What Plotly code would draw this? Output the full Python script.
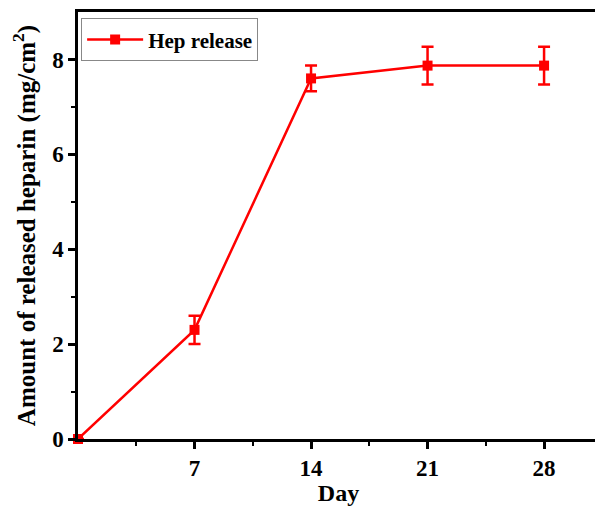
import plotly.graph_objects as go

days = [0, 7, 14, 21, 28]
released = [0.0, 2.3, 7.6, 7.87, 7.87]
errors = [0.0, 0.3, 0.27, 0.4, 0.4]
x_ticks = [7, 14, 21, 28]
y_ticks = [0, 2, 4, 6, 8]

font_family = "Liberation Serif, Times New Roman, serif"

fig = go.Figure()
fig.add_trace(go.Scatter(
    x=days, y=released,
    mode="lines+markers",
    name="<b>Hep release</b>",
    line=dict(color="#ff0000", width=2.5),
    marker=dict(symbol="square", size=10, color="#ff0000"),
    error_y=dict(type="data", array=errors, visible=True, color="#ff0000",
                 thickness=2.5, width=6),
    cliponaxis=False,
))

# the page body adds an 8px offset; figure size/margins compensate for it
fig.update_layout(
    width=595, height=498,
    margin=dict(l=70, r=1, t=2, b=67),
    paper_bgcolor="white", plot_bgcolor="white",
    font=dict(family=font_family, color="black", size=22),
    showlegend=True,
    legend=dict(x=0.006, y=0.985, xanchor="left", yanchor="top",
                bordercolor="#888888", borderwidth=1, bgcolor="white",
                font=dict(size=21, family=font_family, color="black"),
                tracegroupgap=0, itemwidth=56),
    xaxis=dict(
        range=[0, 31.3], tickvals=x_ticks,
        ticktext=[f"<b>{t}</b>" for t in x_ticks],
        showgrid=False, zeroline=False,
        showline=True, linecolor="black", linewidth=2.5, mirror=True,
        ticks="outside", ticklen=7, tickwidth=2.5, tickcolor="black",
        minor=dict(tickvals=[3.5, 10.5, 17.5, 24.5], ticks="outside", ticklen=4,
                   tickwidth=2, tickcolor="black"),
        title=dict(text="<b>Day</b>", standoff=0, font=dict(size=24)),
        tickfont=dict(size=23),
    ),
    yaxis=dict(
        range=[0, 9.0], tickvals=y_ticks,
        ticktext=[f"<b>{t}</b>" for t in y_ticks],
        showgrid=False, zeroline=False,
        showline=True, linecolor="black", linewidth=2.5, mirror=True,
        ticks="outside", ticklen=7, tickwidth=2.5, tickcolor="black",
        minor=dict(tickvals=[1, 3, 5, 7], ticks="outside", ticklen=4,
                   tickwidth=2, tickcolor="black"),
        title=dict(text="<b>Amount of released heparin (mg/cm<sup>2</sup>)</b>",
                   standoff=16, font=dict(size=25)),
        tickfont=dict(size=23),
    ),
)

fig.write_html("out.html")
